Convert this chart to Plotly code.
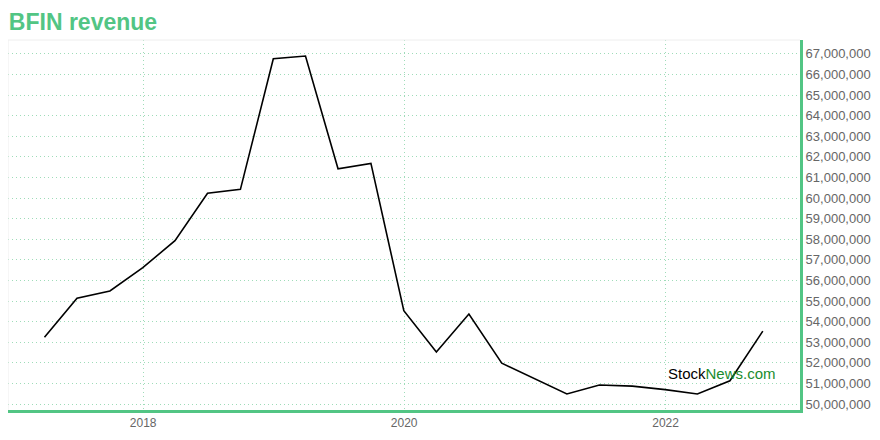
import plotly.graph_objects as go

dates = ["2017-03-31", "2017-06-30", "2017-09-30", "2017-12-31",
         "2018-03-31", "2018-06-30", "2018-09-30", "2018-12-31",
         "2019-03-31", "2019-06-30", "2019-09-30", "2019-12-31",
         "2020-03-31", "2020-06-30", "2020-09-30", "2020-12-31",
         "2021-03-31", "2021-06-30", "2021-09-30", "2021-12-31",
         "2022-03-31", "2022-06-30", "2022-09-30"]
revenue = [53.24e6, 55.13e6, 55.49e6, 56.62e6,
           57.93e6, 60.23e6, 60.42e6, 66.76e6,
           66.89e6, 61.42e6, 61.68e6, 54.53e6,
           52.52e6, 54.37e6, 51.98e6, 51.22e6,
           50.49e6, 50.92e6, 50.87e6, 50.70e6,
           50.49e6, 51.13e6, 53.54e6]

year_ticks = ["2018-01-01", "2020-01-01", "2022-01-01"]
year_labels = ["2018", "2020", "2022"]
y_ticks = [50e6 + i * 1e6 for i in range(18)]

GREEN = "#52c584"
GRID = "#9fdcb9"

fig = go.Figure()
fig.add_trace(go.Scatter(x=dates, y=revenue, mode="lines",
                         line=dict(color="#000000", width=1.6),
                         hoverinfo="x+y", showlegend=False))

fig.update_layout(
    width=872, height=432,
    margin=dict(l=0, r=80, t=32, b=30, autoexpand=False),
    paper_bgcolor="white", plot_bgcolor="white",
    font=dict(family="Liberation Sans, Arial, sans-serif", color="#666666"),
    title=dict(text="<b>BFIN revenue</b>", x=0.001, xanchor="left",
               y=1 - 14 / 432, yanchor="middle", yref="container",
               font=dict(size=23, color=GREEN,
                         family="Liberation Sans, Arial, sans-serif")),
    xaxis=dict(type="date", range=["2016-12-19", "2023-01-12"],
               tickvals=year_ticks, ticktext=year_labels,
               showgrid=True, gridcolor=GRID, griddash="1px,3px", gridwidth=1,
               showline=True, linecolor=GREEN, linewidth=3,
               ticks="", tickfont=dict(size=12, color="#666666"),
               zeroline=False),
    yaxis=dict(side="right", range=[49.71e6, 67.67e6],
               tickvals=y_ticks, tickformat=",d",
               showgrid=True, gridcolor=GRID, griddash="1px,3px", gridwidth=1,
               showline=True, linecolor=GREEN, linewidth=3,
               ticks="", tickfont=dict(size=13, color="#666666"),
               zeroline=False),
    shapes=[
        dict(type="line", xref="paper", yref="paper", x0=0, x1=0, y0=0, y1=1,
             line=dict(color="#eeeeee", width=1)),
        dict(type="line", xref="paper", yref="paper", x0=0, x1=1, y0=1, y1=1,
             line=dict(color="#eeeeee", width=1)),
    ],
    annotations=[
        dict(text="Stock<span style='color:#1a8c2e'>News.com</span>",
             xref="paper", yref="paper", x=0.901, y=0.10,
             xanchor="center", yanchor="middle", showarrow=False,
             font=dict(size=15, color="#000000",
                       family="Liberation Sans, Arial, sans-serif")),
    ],
)

fig.write_html("out.html")
